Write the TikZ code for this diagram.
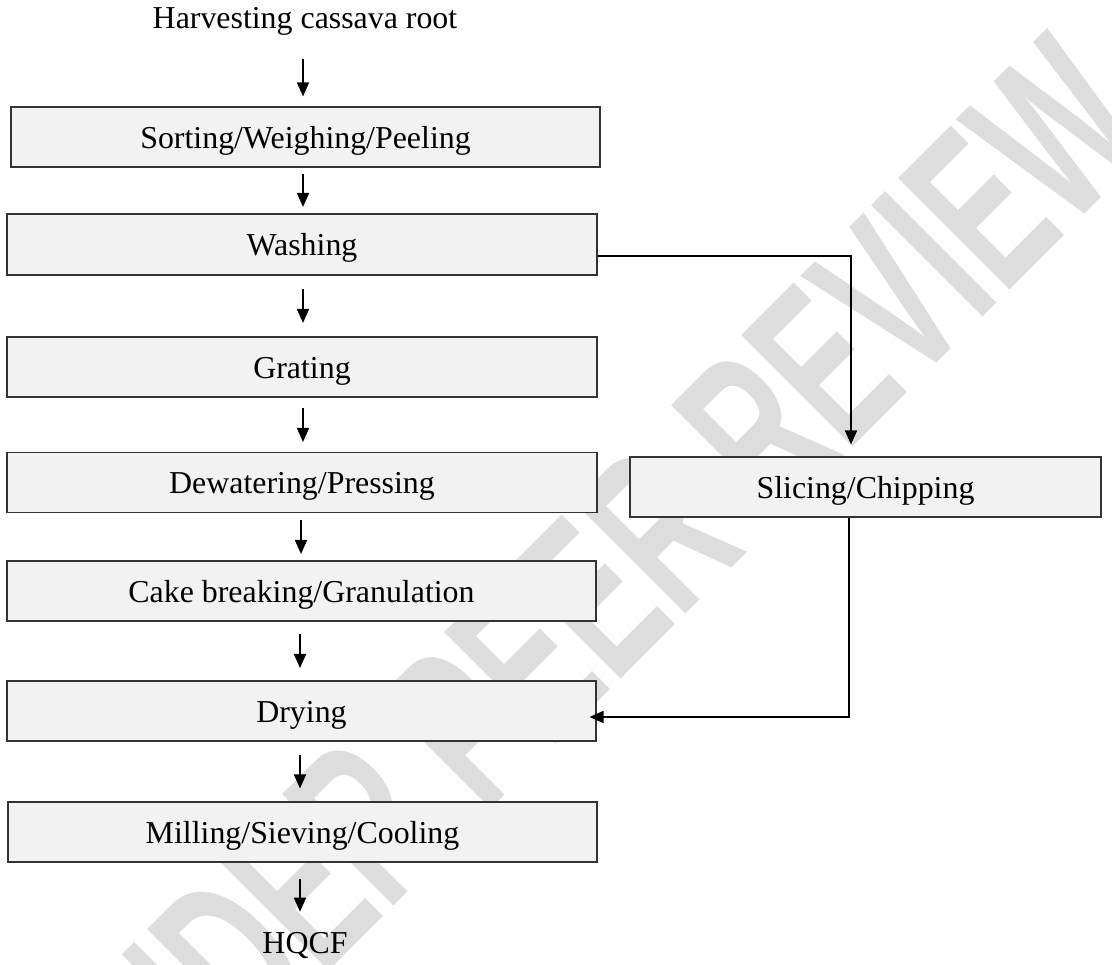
\documentclass[tikz,border=0pt]{standalone}
\usepackage{fontspec}
\setmainfont{Liberation Serif}
\newfontfamily\wmfont{Liberation Sans}
\usetikzlibrary{arrows.meta,calc}
\definecolor{boxfill}{RGB}{242,242,242}
\definecolor{wmgray}{RGB}{221,221,221}
\begin{document}
\begin{tikzpicture}[x=1bp,y=-1bp,
  box/.style={draw=black!80, line width=1.1bp, fill=boxfill, minimum height=60bp, inner sep=0pt,
    text height=23bp, text depth=1bp, font=\fontsize{32}{38}\selectfont},
  lbl/.style={inner sep=0pt, font=\fontsize{32}{38}\selectfont},
  arr/.style={draw=black, line width=1.7bp, -{Triangle[length=14bp,width=12bp]}},
  gapp/.style={shorten <=#1, shorten >=#1},
  wmark/.style={text=wmgray, inner sep=0pt, font=\wmfont\bfseries\fontsize{230}{230}\selectfont}]
\useasboundingbox (0,0) rectangle (1112,965);
% watermark
\node[wmark, rotate=45, xscale=0.6, anchor=east] (wm) at (1105,85) {UNDER PEER REVIEW};
% boxes
\node[lbl, anchor=base] (harv) at (305,28) {Harvesting cassava root};
\node[box, minimum width=589bp] (sort) at (305.5,137) {Sorting/Weighing/Peeling};
\node[box, minimum width=590bp, minimum height=61bp] (wash) at (302,244.5) {Washing};
\node[box, minimum width=590bp] (grat) at (302,367) {Grating};
\node[box, minimum width=590bp] (dewa) at (302,482.5) {Dewatering/Pressing};
\node[box, minimum width=589bp] (cake) at (301.5,591) {Cake breaking/Granulation};
\node[box, minimum width=589bp] (dry) at (301.5,711) {Drying};
\node[box, minimum width=589bp] (mill) at (302.5,832) {Milling/Sieving/Cooling};
\node[box, minimum width=471bp] (slice) at (865.5,487) {Slicing/Chipping};
\node[lbl, anchor=base] (hqcf) at (305,953) {HQCF};
% arrow axes
\coordinate (ax) at (303,0);
\coordinate (bx) at (301,0);
\coordinate (cx) at (300,0);
\coordinate (c1) at (851,256);
\coordinate (c2) at (849,717);
% main column arrows
\draw[arr, shorten <=24bp, shorten >=10bp] (harv.south -| ax) -- (sort.north -| ax);
\draw[arr, gapp=6.5bp] (sort.south -| ax) -- (wash.north -| ax);
\draw[arr, gapp=13.5bp] (wash.south -| ax) -- (grat.north -| ax);
\draw[arr, gapp=10bp] (grat.south -| ax) -- (dewa.north -| ax);
\draw[arr, gapp=6.5bp] (dewa.south -| bx) -- (cake.north -| bx);
\draw[arr, gapp=12.5bp] (cake.south -| cx) -- (dry.north -| cx);
\draw[arr, gapp=13bp] (dry.south -| cx) -- (mill.north -| cx);
\draw[arr, shorten <=16bp, shorten >=20bp] (mill.south -| cx) -- (hqcf.north -| cx);
% side branch
\draw[arr, shorten >=12bp] ([yshift=-11.5bp]wash.east) -- (c1) -- (c1 |- slice.north);
\draw[arr, shorten >=-7bp] (slice.south -| c2) -- (c2) -- (c2 -| dry.east);
\end{tikzpicture}
\end{document}
